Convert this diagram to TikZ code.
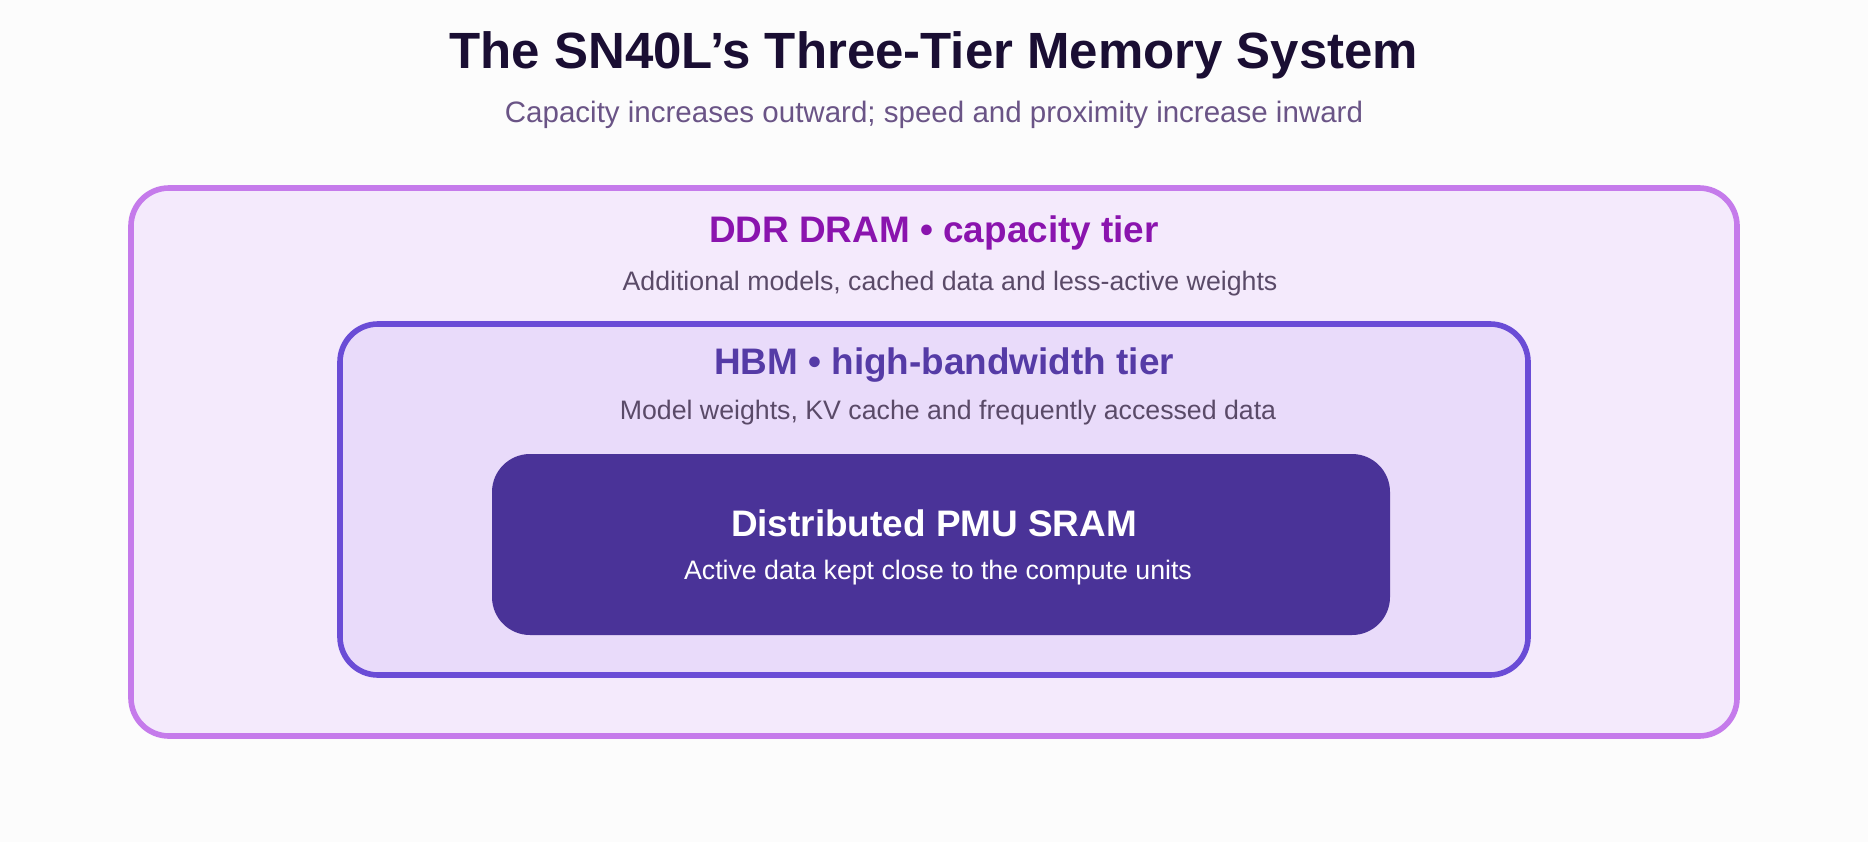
\documentclass[tikz,border=0pt]{standalone}
\usepackage{fontspec}
\setmainfont{Liberation Sans}
\usepackage{tikz}
\usetikzlibrary{positioning}

\definecolor{ddrfill}{HTML}{F4EAFC}
\definecolor{ddrline}{HTML}{C57BEB}
\definecolor{ddrtext}{HTML}{8A14AE}
\definecolor{hbmfill}{HTML}{E9DBFA}
\definecolor{hbmline}{HTML}{6A4CD6}
\definecolor{hbmtext}{HTML}{553BA6}
\definecolor{sramfill}{HTML}{4A3398}
\definecolor{desctext}{HTML}{5A4A68}
\definecolor{titletext}{HTML}{1A0E33}
\definecolor{subtext}{HTML}{6A5486}

\tikzset{
  tier/.style={draw, line width=1.6pt, rounded corners=0.38cm, inner sep=0pt},
  head/.style={font=\bfseries\fontsize{10.5}{12}\selectfont},
  desc/.style={text=desctext, font=\fontsize{7.6}{9}\selectfont}
}

\begin{document}
\begin{tikzpicture}
    % Canvas
    \fill[white!98!gray] (0,0) rectangle (18.68,8.42);
    \useasboundingbox (0,0) rectangle (18.68,8.42);

    % Title
    \node[text=titletext, font=\bfseries\fontsize{14.5}{17}\selectfont] (title) at (9.34,7.87) {The SN40L’s Three-Tier Memory System};
    \node[text=subtext, font=\fontsize{8.4}{10}\selectfont] (subtitle) at (9.34,7.27) {Capacity increases outward; speed and proximity increase inward};

    % Tiers
    \node[tier, draw=ddrline, fill=ddrfill, minimum width=16.06cm, minimum height=5.48cm] (ddr) at (9.34,3.80) {};
    \node[tier, draw=hbmline, fill=hbmfill, minimum width=11.88cm, minimum height=3.51cm] (hbm) at (9.34,3.425) {};
    \node[tier, draw=none, fill=sramfill, minimum width=8.98cm, minimum height=1.81cm] (sram) at (9.41,2.975) {};

    % Labels
    \node[head, text=ddrtext] (ddrhead) at (9.34,6.09) {DDR DRAM • capacity tier};
    \node[desc] (ddrdesc) at (9.50,5.58) {Additional models, cached data and less-active weights};
    \node[head, text=hbmtext] (hbmhead) at (9.44,4.77) {HBM • high-bandwidth tier};
    \node[desc] (hbmdesc) at (9.48,4.29) {Model weights, KV cache and frequently accessed data};
    \node[head, text=white] (sramhead) at (9.34,3.19) {Distributed PMU SRAM};
    \node[desc, text=white] (sramdesc) at (9.38,2.69) {Active data kept close to the compute units};
  \end{tikzpicture}
\end{document}
